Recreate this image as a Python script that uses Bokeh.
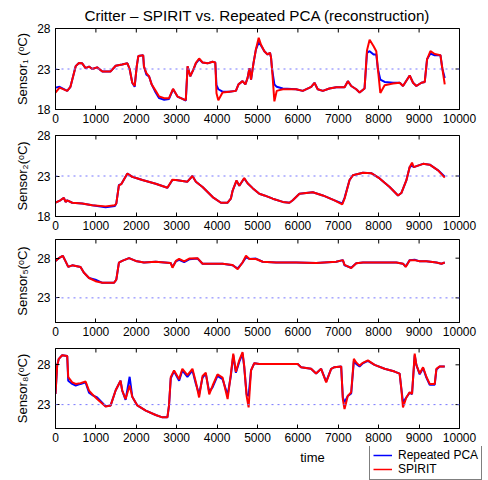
import math
from bokeh.plotting import figure
from bokeh.layouts import column
from bokeh.models import Range1d, FixedTicker, Span, Legend, LegendItem, Title, Label
from bokeh.embed import file_html
from bokeh.resources import INLINE

FONT = "Liberation Sans"

title_text = "Critter \u2013 SPIRIT vs. Repeated PCA (reconstruction)"
x_label = "time"
x_ticks = [0, 1000, 2000, 3000, 4000, 5000, 6000, 7000, 8000, 9000, 10000]
series_names = ["Repeated PCA", "SPIRIT"]
series_colors = ["#0000ff", "#ff0000"]

# ---- Sensor 1 ----
s1_t = [0, 100, 290, 370, 500, 580, 660, 745, 830, 910, 1030, 1160, 1365, 1490, 1650, 1780,
        1835, 1900, 1960, 2010, 2050, 2170, 2190, 2250, 2315, 2380, 2480, 2565, 2690, 2810,
        2910, 3020, 3145, 3225, 3270, 3335, 3410, 3475, 3555, 3640, 3765, 3885, 3955, 3985,
        4030, 4135, 4300, 4465, 4530, 4630, 4700, 4755, 4800, 4840, 4900, 4960, 5030, 5087,
        5170, 5250, 5310, 5335, 5360, 5418, 5476, 5625, 5955, 6120, 6330, 6410, 6490, 6617,
        6780, 6950, 7155, 7237, 7320, 7444, 7527, 7650, 7710, 7775, 7874, 7940, 7980, 8040,
        8147, 8354, 8520, 8602, 8767, 8850, 8932, 9057, 9140, 9197, 9280, 9387, 9528, 9577, 9635]
s1_pca = [20.7, 20.8, 20.3, 20.8, 23.35, 23.75, 23.7, 23.1, 23.3, 23.0, 23.2, 22.7, 22.7, 23.4, 23.55, 23.7,
          23.0, 21.3, 20.8, 23.3, 24.6, 24.7, 23.3, 22.3, 22.1, 21.1, 20.1, 19.4, 19.2, 19.3,
          20.5, 19.6, 19.3, 19.1, 23.3, 22.1, 22.9, 23.7, 24.2, 23.8, 23.7, 23.9, 23.8, 21.0,
          20.5, 20.2, 20.2, 20.3, 21.1, 21.5, 21.1, 21.9, 23.1, 21.7, 23.7, 25.4, 26.3, 25.9,
          25.2, 24.8, 25.0, 24.4, 23.0, 21.1, 20.8, 20.6, 20.5, 20.3, 20.8, 21.3, 20.5, 20.3,
          20.6, 20.75, 20.75, 21.5, 20.9, 20.5, 20.1, 20.6, 25.0, 25.2, 24.8, 24.8, 23.0, 21.7,
          21.4, 21.3, 21.3, 20.9, 22.2, 21.3, 20.9, 21.3, 21.4, 24.2, 24.9, 24.7, 24.7, 23.0, 21.9]
s1_spirit = [20.1, 20.7, 20.3, 20.8, 23.35, 23.75, 23.7, 23.1, 23.3, 23.0, 23.2, 22.7, 22.7, 23.4, 23.55, 23.7,
             23.0, 21.3, 20.9, 23.3, 24.6, 24.7, 23.3, 22.5, 22.1, 21.1, 20.3, 19.6, 19.4, 19.4,
             20.55, 19.6, 19.3, 19.15, 23.35, 22.1, 22.9, 23.75, 24.3, 23.8, 23.7, 23.9, 23.8, 20.0,
             19.15, 20.1, 20.2, 20.3, 21.1, 21.5, 21.1, 21.9, 23.1, 21.7, 23.7, 25.4, 26.85, 26.0,
             25.2, 24.8, 25.0, 24.4, 23.0, 19.0, 20.3, 20.5, 20.5, 20.3, 20.8, 21.3, 20.5, 20.3,
             20.6, 20.75, 20.75, 21.5, 20.9, 20.5, 20.1, 20.6, 25.3, 26.6, 25.8, 25.2, 23.0, 20.05,
             21.0, 21.2, 21.3, 20.9, 22.2, 21.3, 20.9, 21.3, 21.4, 24.2, 25.2, 24.85, 24.7, 23.0, 21.1]

# ---- Sensor 2 ----
s2_t = [0, 120, 207, 250, 290, 414, 660, 910, 1240, 1470, 1505, 1570, 1630, 1780, 1900, 2150,
        2480, 2770, 2895, 2980, 3265, 3390, 3475, 3640, 3890, 4095, 4260, 4340, 4385, 4480,
        4550, 4670, 4755, 4880, 5045, 5170, 5377, 5625, 5790, 5873, 6038, 6369, 6617, 6906,
        7097, 7155, 7279, 7361, 7610, 7816, 8023, 8271, 8478, 8560, 8684, 8767, 8825, 8866,
        9098, 9263, 9470, 9635]
s2_pca = [19.7, 20.0, 20.3, 19.8, 20.0, 19.7, 19.6, 19.4, 19.15, 19.3, 19.6, 21.9, 22.0, 23.3, 22.9, 22.5,
          22.05, 21.55, 22.5, 22.5, 22.3, 23.0, 22.3, 21.65, 20.4, 19.7, 19.7, 20.2, 21.2, 22.4,
          21.8, 22.7, 22.1, 21.5, 20.8, 20.6, 20.2, 19.8, 19.7, 20.0, 20.8, 21.0, 20.6, 20.0,
          19.6, 20.3, 22.5, 23.1, 23.4, 23.35, 22.7, 21.65, 20.6, 20.9, 22.45, 24.1, 24.3, 24.1,
          24.5, 24.4, 23.7, 22.9]
s2_spirit = [19.7, 20.0, 20.3, 19.8, 20.0, 19.7, 19.6, 19.4, 19.25, 19.4, 19.6, 21.85, 22.0, 23.3, 22.9, 22.5,
             22.05, 21.55, 22.55, 22.5, 22.3, 23.0, 22.3, 21.65, 20.4, 19.7, 19.7, 20.2, 21.2, 22.45,
             21.8, 22.75, 22.1, 21.5, 20.8, 20.6, 20.2, 19.8, 19.7, 20.0, 20.8, 21.0, 20.6, 20.0,
             19.5, 20.2, 22.5, 23.1, 23.4, 23.35, 22.7, 21.65, 20.6, 20.9, 22.45, 24.1, 24.65, 24.1,
             24.5, 24.4, 23.7, 22.8]

# ---- Sensor 5 ----
s5_t = [0, 80, 180, 250, 315, 414, 620, 700, 830, 990, 1160, 1450, 1505, 1570, 1650, 1820,
        1985, 2190, 2480, 2850, 2895, 2980, 3060, 3185, 3310, 3515, 3640, 3890, 4135, 4385,
        4510, 4630, 4715, 4800, 4960, 5128, 5459, 5955, 6452, 6948, 7113, 7155, 7320, 7444,
        7610, 8106, 8437, 8602, 8668, 8767, 8891, 9015, 9180, 9429, 9553, 9635]
s5_pca = [27.65, 28.0, 28.3, 27.6, 26.9, 27.1, 26.9, 26.2, 25.5, 25.3, 24.9, 24.9, 25.3, 27.45, 27.65, 28.0,
          27.65, 27.45, 27.55, 27.4, 26.9, 27.6, 27.8, 27.5, 27.85, 27.95, 27.3, 27.3, 27.3, 27.1,
          26.7, 27.45, 28.1, 27.9, 27.95, 27.55, 27.45, 27.45, 27.4, 27.55, 27.75, 27.1, 26.8, 27.35,
          27.45, 27.45, 27.45, 27.3, 26.95, 27.75, 27.8, 27.6, 27.6, 27.45, 27.3, 27.45]
s5_spirit = [27.65, 28.0, 28.3, 27.6, 26.9, 27.1, 26.9, 26.2, 25.5, 25.1, 24.9, 24.9, 25.3, 27.45, 27.65, 28.0,
             27.65, 27.45, 27.55, 27.4, 26.8, 27.65, 27.9, 27.6, 27.95, 28.0, 27.3, 27.3, 27.3, 27.15,
             26.6, 27.45, 28.3, 27.9, 27.9, 27.55, 27.45, 27.45, 27.4, 27.55, 27.75, 27.15, 26.75, 27.35,
             27.45, 27.45, 27.45, 27.3, 26.9, 27.75, 27.75, 27.6, 27.6, 27.45, 27.3, 27.45]

# ---- Sensor 8 ----
s8_t = [0, 41, 82, 165, 290, 315, 414, 500, 620, 745, 830, 910, 1030, 1240, 1365, 1490,
        1610, 1650, 1735, 1835, 1900, 2025, 2235, 2480, 2646, 2770, 2810, 2853, 2935, 3060,
        3140, 3265, 3390, 3475, 3555, 3640, 3720, 3805, 3890, 4010, 4135, 4260, 4340, 4400,
        4465, 4550, 4630, 4670, 4730, 4780, 4840, 4920, 5045, 5665, 5996, 6078, 6326, 6450,
        6575, 6700, 6823, 6905, 7071, 7112, 7154, 7236, 7319, 7385, 7443, 7526, 7608, 7732,
        7898, 8146, 8394, 8518, 8560, 8601, 8684, 8766, 8825, 8891, 8932, 9015, 9098, 9180,
        9263, 9387, 9428, 9511, 9635]
s8_pca = [24.35, 27.9, 28.75, 29.2, 29.1, 26.0, 25.6, 25.4, 25.6, 25.8, 24.5, 24.2, 23.9, 22.8, 22.9, 24.8,
          26.0, 24.8, 23.6, 26.5, 24.0, 22.9, 22.25, 21.7, 21.4, 21.4, 22.9, 26.3, 27.2, 26.0,
          27.3, 26.5, 27.3, 25.6, 24.3, 26.4, 26.9, 24.6, 25.2, 26.6, 26.2, 24.2, 26.6, 29.2,
          27.0, 28.4, 29.4, 27.8, 24.3, 24.1, 27.3, 28.2, 28.1, 28.1, 28.1, 27.7, 27.5, 26.9,
          27.5, 25.9, 27.5, 27.7, 27.8, 23.9, 23.3, 24.1, 24.4, 28.5, 28.1, 27.8, 28.2, 28.5,
          28.0, 27.5, 27.15, 26.9, 25.0, 23.3, 23.9, 24.5, 24.3, 29.2, 28.0, 26.8, 27.6, 26.4,
          25.5, 25.5, 27.4, 27.8, 27.8]
s8_spirit = [24.35, 27.9, 28.75, 29.2, 29.1, 26.45, 25.8, 25.6, 25.7, 25.9, 24.75, 24.3, 23.7, 22.75, 22.9, 24.8,
             26.0, 24.8, 23.7, 25.4, 24.0, 22.9, 22.25, 21.7, 21.4, 21.4, 22.9, 26.45, 27.3, 26.2,
             27.5, 26.7, 27.5, 25.8, 23.9, 26.6, 27.0, 24.3, 25.4, 26.8, 26.4, 23.7, 26.8, 29.4,
             27.1, 28.6, 29.6, 27.9, 24.1, 22.65, 27.3, 28.2, 28.1, 28.1, 28.1, 27.7, 27.5, 26.9,
             27.5, 25.8, 27.5, 27.7, 27.8, 23.7, 22.45, 24.1, 24.55, 28.75, 28.3, 27.9, 28.25, 28.55,
             28.0, 27.5, 27.15, 26.9, 25.0, 22.65, 23.9, 24.55, 24.35, 29.4, 28.0, 26.9, 27.7, 26.5,
             25.6, 25.6, 27.5, 27.8, 27.8]

X_MIN, X_MAX = 0, 10000
LW = 2.0


def make_fig(t, pca, spirit, ylab, yr, yticks, frame_h, top, bottom):
    p = figure(frame_width=404, frame_height=frame_h, output_backend="svg", toolbar_location=None,
               x_range=Range1d(X_MIN, X_MAX), y_range=Range1d(*yr),
               min_border_left=55, min_border_right=29, min_border_top=top, min_border_bottom=bottom,
               background_fill_color="white", border_fill_color="white")
    p.xgrid.visible = False
    p.ygrid.visible = False
    p.outline_line_color = "black"
    p.outline_line_width = 1
    p.xaxis.ticker = FixedTicker(ticks=x_ticks)
    p.yaxis.ticker = FixedTicker(ticks=yticks)
    for ax in (p.xaxis[0], p.yaxis[0]):
        ax.major_tick_in = 4
        ax.major_tick_out = 0
        ax.minor_tick_line_color = None
        ax.axis_line_color = "black"
        ax.major_tick_line_color = "black"
        ax.major_label_text_font = FONT
        ax.major_label_text_font_size = "12px"
        ax.major_label_text_color = "black"
        ax.axis_label_text_font = FONT
        ax.axis_label_text_font_style = "normal"
        ax.axis_label_text_color = "black"
    p.xaxis.major_label_standoff = 4
    p.yaxis.major_label_standoff = 5
    p.yaxis.axis_label = ylab
    p.yaxis.axis_label_text_font_size = "13px"
    p.yaxis.axis_label_standoff = 4
    p.add_layout(Span(location=23, dimension="width", line_color="#7777ff",
                      line_dash="2 4", line_width=1))
    p.line(t, pca, line_color=series_colors[0], line_width=LW)
    p.line(t, spirit, line_color=series_colors[1], line_width=LW)
    # inner ticks on the top and right edges (half of each dash is clipped by the frame)
    p.scatter(x=x_ticks, y=[yr[1]] * len(x_ticks), marker="dash", angle=math.pi / 2,
              size=8, line_color="black", line_width=1)
    p.scatter(x=[X_MAX] * len(yticks), y=yticks, marker="dash", angle=0,
              size=8, line_color="black", line_width=1)
    return p


p1 = make_fig(s1_t, s1_pca, s1_spirit, "Sensor\u2081 (\u1d52C)", (18, 28), [18, 23, 28], 81, 28, 20)
p1.add_layout(Title(text=title_text, align="center", text_font=FONT, text_font_size="15.2px",
                    text_font_style="normal", text_color="black", standoff=9, offset=9), "above")
p2 = make_fig(s2_t, s2_pca, s2_spirit, "Sensor\u2082(\u1d52C)", (18, 28), [18, 23, 28], 81, 6, 20)
p3 = make_fig(s5_t, s5_pca, s5_spirit, "Sensor\u2085(\u1d52C)", (19.9, 30.35), [23, 28], 83, 3, 20)
p4 = make_fig(s8_t, s8_pca, s8_spirit, "Sensor\u2088(\u1d52C)", (20.0, 30.05), [23, 28], 80, 6, 18)

# bottom strip: x-axis title and legend side by side
p5 = figure(frame_width=488, frame_height=34, output_backend="svg", toolbar_location=None,
            x_axis_type=None, y_axis_type=None, x_range=Range1d(0, 1), y_range=Range1d(0, 1),
            min_border=0, outline_line_color=None, background_fill_color="white",
            border_fill_color="white")
p5.xgrid.visible = False
p5.ygrid.visible = False
p5.add_layout(Label(x=257, y=23, x_units="screen", y_units="screen", text=x_label,
                    text_font=FONT, text_font_size="13px", text_color="black",
                    text_align="center", text_baseline="middle"))
# legend-only renderers (a single NaN point: nothing is drawn, but the legend gets its swatches)
nan = float("nan")
lb = p5.line(x=[nan], y=[nan], line_color=series_colors[0], line_width=1.5)
lr = p5.line(x=[nan], y=[nan], line_color=series_colors[1], line_width=1.5)
legend = Legend(items=[LegendItem(label=series_names[0], renderers=[lb]),
                       LegendItem(label=series_names[1], renderers=[lr])],
                location=(369, 0), border_line_color="black", border_line_width=1,
                background_fill_color="white", background_fill_alpha=1.0,
                label_text_font=FONT, label_text_font_size="12px", label_text_color="black",
                padding=3, spacing=0, margin=0, glyph_width=19, glyph_height=14,
                label_height=14, label_standoff=6)
p5.add_layout(legend)

layout = column(p1, p2, p3, p4, p5, spacing=0)
open("out.html", "w").write(file_html(layout, INLINE))
